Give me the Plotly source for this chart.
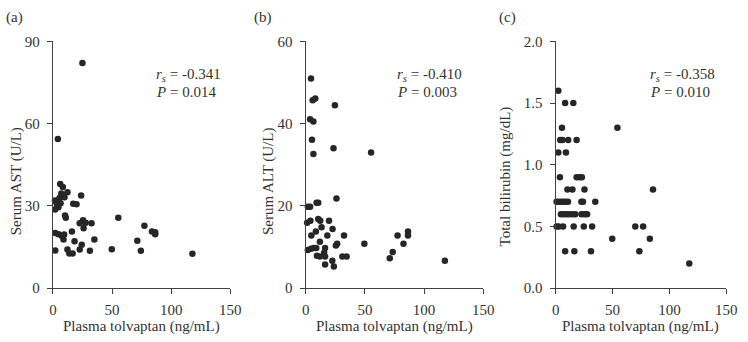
import plotly.graph_objects as go

W, H = 748, 342

# ---------------- data ----------------
ast_x = [24.9, 4.1, 6.1, 8.3, 12.2, 23.8, 1.7, 5.5, 8.3, 1.8, 6.4, 4.6, 1.8, 9.7, 17.1, 19.9,
         10.2, 10.8, 55.2, 22.6, 25.4, 27.6, 32.6, 25.9, 77.3, 83.7, 86.4, 86.4, 1.9, 4.7,
         7.5, 9.4, 8.9, 16.0, 35.0, 71.3, 18.2, 24.3, 22.6, 1.9, 12.2, 13.8, 16.6, 31.2,
         49.7, 74.3, 117.9, 3.5, 7.0]
ast_y = [82.1, 54.4, 38.0, 36.9, 35.0, 33.8, 32.0, 32.9, 33.6, 31.6, 31.0, 29.5, 28.7, 33.2, 30.8, 30.6,
         26.5, 25.7, 25.7, 23.7, 24.8, 23.9, 23.7, 21.9, 22.8, 20.7, 20.4, 19.7, 20.1, 19.7,
         19.0, 19.6, 17.8, 20.7, 17.8, 17.3, 17.1, 15.9, 14.1, 13.8, 14.1, 12.7, 12.7, 13.7,
         14.2, 13.7, 12.6, 30.2, 34.5]

alt_x = [4.4, 5.8, 8.0, 24.6, 3.6, 6.4, 5.2, 23.4, 6.4, 55.2, 9.1, 10.5, 1.7, 3.6, 25.9,
         1.1, 3.9, 10.5, 12.2, 19.6, 13.3, 22.6, 8.5, 4.7, 18.2, 32.3, 11.9, 26.5, 25.4,
         49.5, 1.7, 4.4, 6.6, 8.8, 16.3, 15.5, 16.3, 11.9, 30.9, 34.5, 16.3, 22.4, 23.7,
         9.4, 77.6, 82.6, 73.5, 71.0, 86.4, 86.4, 117.6]
alt_y = [51.0, 45.7, 46.1, 44.5, 41.1, 40.5, 36.1, 34.0, 32.6, 33.0, 20.8, 20.8, 19.8, 19.8, 21.8,
         15.9, 16.4, 16.8, 16.4, 16.4, 14.8, 14.4, 13.8, 12.8, 12.8, 12.8, 11.3, 10.8, 10.4,
         10.8, 9.3, 9.6, 9.8, 9.8, 9.8, 8.6, 7.7, 7.7, 7.7, 7.7, 5.8, 6.7, 5.3,
         7.9, 12.8, 10.8, 8.8, 7.3, 13.8, 12.8, 6.7]

tb_x = [2.3, 8.3, 15.5, 5.5, 54.3, 4.0, 6.0, 11.0, 18.4, 2.3, 9.0, 3.7, 18.4, 21.0, 23.0,
        10.3, 14.7, 25.3, 85.6, 0.8, 2.8, 4.8, 6.8, 8.8, 10.8, 22.6, 24.0, 34.8,
        4.6, 6.9, 9.5, 12.0, 14.7, 17.2, 22.7, 25.3, 27.6,
        0.8, 2.6, 6.5, 15.8, 24.7, 32.0, 70.0, 76.9, 49.7, 82.8, 8.3, 16.4, 31.0, 73.6, 117.5]
tb_y = [1.6, 1.5, 1.5, 1.3, 1.3, 1.2, 1.2, 1.2, 1.2, 1.1, 1.1, 0.9, 0.9, 0.9, 0.9,
        0.8, 0.8, 0.8, 0.8, 0.7, 0.7, 0.7, 0.7, 0.7, 0.7, 0.7, 0.7, 0.7,
        0.6, 0.6, 0.6, 0.6, 0.6, 0.6, 0.6, 0.6, 0.6,
        0.5, 0.5, 0.5, 0.5, 0.5, 0.5, 0.5, 0.5, 0.4, 0.4, 0.3, 0.3, 0.3, 0.3, 0.2]

x_ticks = [0, 50, 100, 150]
panels = [
    dict(x=ast_x, y=ast_y, yrange=[0, 90], yticks=[0, 30, 60, 90], fmt="d",
         ytitle="Serum AST (U/L)", label="(a)", rs="-0.341", p="0.014",
         x0=50, x1=231, ytitle_x=13, ytitle_y=182, lab_x=0, stat_x=153),
    dict(x=alt_x, y=alt_y, yrange=[0, 60], yticks=[0, 20, 40, 60], fmt="d",
         ytitle="Serum ALT (U/L)", label="(b)", rs="-0.410", p="0.003",
         x0=308, x1=489, ytitle_x=270, ytitle_y=182, lab_x=253, stat_x=399),
    dict(x=tb_x, y=tb_y, yrange=[0, 2.0], yticks=[0, 0.5, 1.0, 1.5, 2.0], fmt=".1f",
         ytitle="Total bilirubin (mg/dL)", label="(c)", rs="-0.358", p="0.010",
         x0=563, x1=737, ytitle_x=512, ytitle_y=177, lab_x=503, stat_x=657),
]

FONT = "Liberation Serif"
TXT = "#333333"
AXC = "#404040"
Y_TOP, Y_BOT = 35, 294

fig = go.Figure()
annotations = []
for i, p in enumerate(panels):
    n = "" if i == 0 else str(i + 1)
    fig.add_trace(go.Scatter(
        x=p["x"], y=p["y"], mode="markers", xaxis="x" + n, yaxis="y" + n,
        marker=dict(size=6.5, color="#262626", line=dict(width=0)),
        cliponaxis=False, showlegend=False, hoverinfo="x+y"))
    common = dict(showline=True, linecolor=AXC, linewidth=1.4, ticks="outside",
                  ticklen=5, tickwidth=1.2, tickcolor=AXC, showgrid=False, zeroline=False,
                  tickfont=dict(family=FONT, size=15, color=TXT))
    fig.update_layout(**{
        "xaxis" + n: dict(domain=[p["x0"] / W, p["x1"] / W], range=[0, 150],
                          tickvals=x_ticks, anchor="y" + n, ticklabelstandoff=3, **common),
        "yaxis" + n: dict(domain=[1 - Y_BOT / H, 1 - Y_TOP / H], range=p["yrange"],
                          tickvals=p["yticks"], tickformat=p["fmt"], anchor="x" + n,
                          ticklabelstandoff=4, **common),
    })
    annotations += [
        dict(text=p["ytitle"], x=p["ytitle_x"] / W, y=1 - p["ytitle_y"] / H, xref="paper",
             yref="paper", textangle=-90, showarrow=False, xanchor="center", yanchor="middle",
             font=dict(family=FONT, size=15, color=TXT)),
        dict(text="Plasma tolvaptan (ng/mL)", x=(p["x0"] + p["x1"]) / 2 / W, y=1 - 334 / H,
             xref="paper", yref="paper", showarrow=False, xanchor="center", yanchor="middle",
             font=dict(family=FONT, size=15, color=TXT)),
        dict(text=p["label"], x=p["lab_x"] / W, y=1 - 10 / H, xref="paper", yref="paper",
             showarrow=False, xanchor="left", yanchor="middle",
             font=dict(family=FONT, size=15, color=TXT)),
        dict(text="<i>r<sub>s</sub></i> = " + p["rs"], x=p["stat_x"] / W, y=1 - 70 / H,
             xref="paper", yref="paper", showarrow=False, xanchor="left", yanchor="middle",
             font=dict(family=FONT, size=15, color=TXT)),
        dict(text="<i>P</i> = " + p["p"], x=p["stat_x"] / W, y=1 - 88 / H,
             xref="paper", yref="paper", showarrow=False, xanchor="left", yanchor="middle",
             font=dict(family=FONT, size=15, color=TXT)),
    ]

fig.update_layout(width=W, height=H, margin=dict(l=0, r=0, t=0, b=0),
                  paper_bgcolor="white", plot_bgcolor="white",
                  annotations=annotations, showlegend=False)
fig.write_html("out.html")
